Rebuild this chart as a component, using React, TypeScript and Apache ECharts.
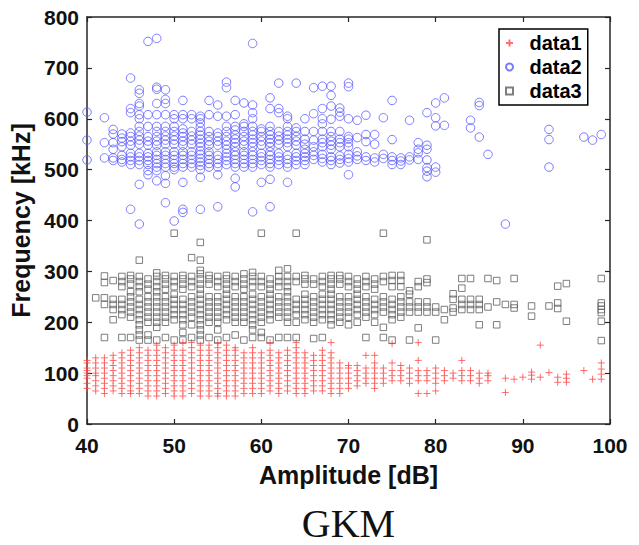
import React, { useEffect, useRef } from "react";
import * as echarts from "echarts";

// [amplitude dB, frequencies kHz]
const data1Columns: [number, number[]][] = [
  [40, [70, 80, 90, 95, 100, 105, 110, 120, 125]],
  [41, [65, 75, 85, 95, 100, 110, 120, 130]],
  [42, [60, 70, 80, 90, 100, 110, 120, 130]],
  [43, [65, 75, 85, 95, 105, 115, 125, 135]],
  [44, [60, 70, 80, 90, 100, 110, 120, 130, 140]],
  [45, [60, 65, 75, 85, 95, 105, 115, 125, 135, 145]],
  [46, [60, 70, 80, 90, 100, 110, 120, 130, 140, 150]],
  [47, [55, 65, 75, 85, 95, 105, 115, 125, 135, 145]],
  [48, [55, 65, 75, 85, 95, 105, 115, 125, 135, 145, 155]],
  [49, [60, 70, 80, 90, 100, 110, 120, 130, 140, 150]],
  [50, [55, 65, 75, 85, 95, 105, 115, 125, 135, 145, 155]],
  [51, [55, 65, 75, 85, 95, 105, 115, 125, 135, 145, 160]],
  [52, [60, 70, 80, 90, 100, 110, 120, 130, 140, 150, 160]],
  [53, [55, 65, 75, 85, 95, 105, 115, 125, 135, 145, 155]],
  [54, [55, 65, 75, 85, 95, 105, 115, 125, 135, 145, 155]],
  [55, [55, 60, 70, 80, 90, 100, 110, 120, 130, 140, 150, 160]],
  [56, [55, 65, 75, 85, 95, 105, 115, 125, 135, 145, 155]],
  [57, [55, 65, 75, 85, 95, 105, 115, 125, 135, 145, 150]],
  [58, [60, 70, 80, 90, 100, 110, 120, 130, 140]],
  [59, [60, 70, 80, 90, 100, 110, 120, 130, 140, 150]],
  [60, [60, 70, 80, 90, 100, 110, 120, 130, 140]],
  [61, [65, 75, 85, 95, 105, 115, 125, 135, 145, 160]],
  [62, [60, 70, 80, 90, 100, 110, 120, 130, 140]],
  [63, [65, 75, 85, 95, 105, 115, 125, 135, 145]],
  [64, [60, 70, 80, 90, 100, 110, 120, 130, 140, 150, 160]],
  [65, [60, 70, 80, 90, 100, 110, 120, 130, 140]],
  [66, [65, 75, 85, 95, 105, 115, 125, 135]],
  [67, [65, 75, 85, 95, 105, 115, 125, 135, 145]],
  [68, [60, 70, 80, 90, 100, 110, 120, 130, 140, 160]],
  [69, [60, 70, 80, 90, 100, 110, 120]],
  [70, [70, 80, 90, 100, 110, 115]],
  [71, [75, 85, 95, 105, 115]],
  [72, [80, 90, 100, 110, 135]],
  [73, [70, 80, 90, 100, 110, 120, 135]],
  [74, [80, 90, 100, 110]],
  [75, [85, 95, 105, 120, 158]],
  [76, [85, 95, 105, 115]],
  [77, [80, 90, 100, 110]],
  [78, [60, 85, 95, 105, 125, 160]],
  [79, [60, 85, 95, 105]],
  [80, [65, 80, 90, 100, 110]],
  [81, [85, 95, 105]],
  [82, [90, 100]],
  [83, [85, 95, 105, 125]],
  [84, [85, 95, 105]],
  [85, [80, 90, 100]],
  [86, [85, 95, 100]],
  [88, [62, 90]],
  [89, [88]],
  [90, [92]],
  [91, [88, 96, 102]],
  [92, [92, 155]],
  [93, [101]],
  [94, [82, 92]],
  [95, [82, 90, 98]],
  [97, [105]],
  [98, [88]],
  [99, [88, 98, 108, 120]],
];

const data2Columns: [number, number[]][] = [
  [40, [519, 558, 613]],
  [42, [523, 553, 602]],
  [43, [518, 523, 540, 553, 570, 579]],
  [44, [515, 520, 528, 545, 555, 562, 570]],
  [45, [422, 510, 518, 525, 532, 548, 556, 565, 572, 612, 620, 680]],
  [46, [393, 471, 510, 518, 525, 532, 550, 558, 566, 575, 585, 600, 608, 625, 630, 650, 657]],
  [47, [490, 498, 510, 518, 525, 532, 548, 556, 565, 585, 608, 752]],
  [48, [478, 498, 505, 512, 520, 528, 535, 548, 556, 565, 575, 585, 608, 630, 658, 662, 758]],
  [49, [435, 473, 488, 505, 512, 520, 528, 535, 550, 558, 566, 575, 585, 608, 630, 638, 657]],
  [50, [399, 500, 505, 512, 520, 528, 535, 550, 558, 566, 575, 585, 600, 608]],
  [51, [416, 422, 475, 505, 512, 520, 528, 535, 548, 556, 565, 572, 580, 600, 608, 636]],
  [52, [505, 512, 520, 528, 535, 550, 558, 566, 575, 600, 608]],
  [53, [422, 485, 500, 508, 515, 522, 530, 537, 545, 552, 560, 568, 575, 583, 592, 600, 605]],
  [54, [505, 512, 520, 528, 535, 548, 556, 565, 575, 608, 636]],
  [55, [427, 490, 505, 512, 520, 528, 548, 556, 565, 572, 605, 627]],
  [56, [510, 518, 525, 532, 540, 548, 556, 565, 575, 585, 605, 661, 672]],
  [57, [466, 483, 505, 512, 520, 528, 535, 545, 553, 560, 568, 578, 585, 608, 636]],
  [58, [505, 512, 520, 528, 535, 548, 556, 565, 575, 585, 590, 631]],
  [59, [417, 505, 512, 520, 528, 535, 545, 553, 560, 568, 575, 585, 600, 612, 627, 748]],
  [60, [475, 510, 518, 525, 532, 548, 556, 565, 575, 580]],
  [61, [427, 481, 505, 512, 520, 528, 535, 545, 553, 560, 568, 575, 585, 620, 641]],
  [62, [510, 518, 525, 532, 550, 558, 566, 575, 612, 620, 670]],
  [63, [475, 505, 512, 520, 528, 545, 553, 560, 568, 575, 585, 600, 605]],
  [64, [510, 518, 525, 532, 548, 556, 565, 575, 582, 670]],
  [65, [510, 518, 525, 532, 540, 550, 560, 575, 600]],
  [66, [520, 528, 535, 545, 558, 575, 610, 661]],
  [67, [515, 522, 530, 545, 553, 560, 575, 590, 600, 620, 664]],
  [68, [510, 518, 525, 540, 548, 556, 565, 575, 599, 625, 646, 664]],
  [69, [513, 520, 527, 545, 553, 560, 575, 605, 613, 621]],
  [70, [490, 515, 522, 530, 545, 553, 560, 565, 600, 663, 670]],
  [71, [520, 527, 535, 563, 597]],
  [72, [518, 525, 555, 569, 607]],
  [73, [515, 523, 550, 569]],
  [74, [522, 530, 602]],
  [75, [510, 518, 525, 559, 636]],
  [76, [510, 517, 523]],
  [77, [519, 525, 597]],
  [78, [520, 533, 540, 553]],
  [79, [486, 497, 504, 519, 540, 548, 612]],
  [80, [495, 505, 586, 602, 631]],
  [81, [587, 641]],
  [84, [582, 597]],
  [85, [564, 626, 632]],
  [86, [530]],
  [88, [393]],
  [93, [505, 559, 579]],
  [97, [564]],
  [98, [558]],
  [99, [569]],
];

const data3Columns: [number, number[]][] = [
  [41, [248]],
  [42, [170, 235, 248, 278, 291]],
  [43, [205, 225, 235, 245, 282]],
  [44, [170, 215, 225, 235, 245, 270, 280, 290]],
  [45, [170, 210, 220, 230, 240, 250, 260, 275, 285, 292]],
  [46, [165, 175, 185, 195, 205, 215, 225, 235, 245, 260, 270, 280, 290, 322]],
  [47, [165, 175, 200, 210, 220, 230, 240, 250, 265, 275, 285]],
  [48, [165, 190, 200, 210, 220, 230, 240, 250, 260, 270, 280, 290, 297]],
  [49, [170, 200, 210, 220, 230, 240, 250, 265, 275, 285, 292]],
  [50, [165, 205, 215, 225, 235, 245, 255, 270, 280, 290, 375]],
  [51, [165, 180, 195, 205, 215, 225, 235, 245, 265, 275, 285, 292]],
  [52, [170, 195, 210, 220, 230, 240, 250, 270, 280, 290, 327]],
  [53, [165, 175, 185, 195, 205, 215, 225, 235, 245, 255, 265, 275, 285, 295, 302, 322, 357]],
  [54, [170, 200, 210, 220, 230, 240, 250, 275, 285, 292]],
  [55, [165, 185, 200, 210, 220, 230, 240, 250, 270, 280, 290]],
  [56, [170, 205, 215, 225, 235, 245, 255, 265, 275, 285, 292]],
  [57, [175, 200, 210, 220, 230, 240, 250, 270, 280, 290]],
  [58, [165, 200, 210, 220, 230, 240, 250, 265, 275, 285, 295]],
  [59, [170, 185, 195, 205, 215, 225, 235, 245, 255, 270, 280, 290, 298]],
  [60, [170, 180, 200, 210, 220, 230, 240, 250, 270, 280, 290, 375]],
  [61, [165, 205, 215, 225, 235, 245, 255, 265, 275, 285]],
  [62, [170, 210, 220, 230, 240, 250, 270, 280, 290, 302]],
  [63, [170, 200, 210, 220, 230, 240, 250, 260, 270, 280, 290, 305]],
  [64, [170, 200, 215, 225, 235, 245, 280, 290, 375]],
  [65, [205, 215, 225, 235, 245, 255, 275, 285, 292]],
  [66, [168, 200, 210, 220, 230, 240, 250, 275, 285]],
  [67, [170, 205, 215, 225, 235, 245, 255, 270, 280, 290]],
  [68, [195, 205, 215, 225, 235, 245, 255, 265, 275, 285, 292]],
  [69, [200, 210, 220, 230, 240, 250, 275, 285, 292]],
  [70, [195, 210, 220, 230, 240, 250, 270, 280, 290]],
  [71, [200, 215, 225, 235, 245, 255, 265, 275, 285]],
  [72, [170, 210, 220, 230, 240, 250, 270, 280, 290]],
  [73, [200, 215, 225, 235, 245, 265, 275, 285]],
  [74, [170, 190, 220, 230, 240, 250, 280, 290, 375]],
  [75, [165, 205, 215, 225, 235, 245, 270, 282, 292]],
  [76, [210, 220, 230, 240, 250, 270, 282, 292]],
  [77, [165, 220, 230, 240, 255, 262]],
  [78, [189, 220, 230, 240, 270, 280]],
  [79, [220, 230, 240, 278, 285, 362]],
  [80, [165, 220, 230]],
  [81, [205, 225]],
  [82, [220, 228, 245, 256]],
  [83, [225, 235, 245, 267, 286]],
  [84, [225, 235, 245, 286]],
  [85, [195, 225, 235, 245]],
  [86, [230, 286]],
  [87, [195, 240, 282]],
  [88, [235]],
  [89, [228, 235, 286]],
  [91, [212, 232]],
  [93, [232]],
  [94, [227, 238, 271]],
  [95, [202, 276]],
  [99, [164, 202, 219, 225, 232, 238, 286]],
];

const seriesNames = ["data1", "data2", "data3"];
const xAxisTitle = "Amplitude [dB]";
const yAxisTitle = "Frequency [kHz]";
const caption = "GKM";

const SANS = '"Liberation Sans", Arial, Helvetica, sans-serif';
const SERIF = '"Liberation Serif", "Times New Roman", serif';
const AXIS_COLOR = "#262626";

const PLUS_SYMBOL = "path://M5,0V10M0,5H10";
const SQUARE_SYMBOL = "path://M0,0H10V10H0Z";

function toPoints(cols: [number, number[]][]): number[][] {
  const out: number[][] = [];
  for (const [a, ys] of cols) for (const y of ys) out.push([a, y]);
  return out;
}

export default function App() {
  const ref = useRef<HTMLDivElement>(null);

  useEffect(() => {
    document.body.style.margin = "0";
    if (!ref.current) return;
    const chart = echarts.init(ref.current, null, { renderer: "svg" });

    const axisLine = { show: true, onZero: false, lineStyle: { color: AXIS_COLOR, width: 1.5 } };
    const axisTick = { show: true, inside: true, length: 5, lineStyle: { color: AXIS_COLOR, width: 1.2 } };
    const labelStyle = { color: "#111", fontSize: 21, fontWeight: "bold", fontFamily: SANS };
    const nameStyle = { color: "#111", fontSize: 25, fontWeight: "bold", fontFamily: SANS };

    chart.setOption({
      animation: false,
      backgroundColor: "#fff",
      grid: { left: 87, right: 29, top: 17, bottom: 121, containLabel: false },
      xAxis: [
        {
          type: "value", min: 40, max: 100, interval: 10, position: "bottom",
          axisLine, axisTick, splitLine: { show: false },
          axisLabel: { ...labelStyle, margin: 11 },
          name: xAxisTitle, nameLocation: "middle", nameGap: 38, nameTextStyle: nameStyle,
        },
        {
          type: "value", min: 40, max: 100, interval: 10, position: "top",
          axisLine, axisTick, splitLine: { show: false }, axisLabel: { show: false },
        },
      ],
      yAxis: [
        {
          type: "value", min: 0, max: 800, interval: 100, position: "left",
          axisLine, axisTick, splitLine: { show: false },
          axisLabel: { ...labelStyle, margin: 8 },
          name: yAxisTitle, nameLocation: "middle", nameGap: 48, nameTextStyle: nameStyle,
        },
        {
          type: "value", min: 0, max: 800, interval: 100, position: "right",
          axisLine, axisTick, splitLine: { show: false }, axisLabel: { show: false },
        },
      ],
      legend: {
        data: seriesNames,
        orient: "vertical",
        left: 499,
        top: 29,
        itemWidth: 30,
        itemHeight: 7,
        itemGap: 4,
        padding: [4, 6, 4, 6],
        symbolKeepAspect: true,
        selectedMode: false,
        borderColor: "#000",
        borderWidth: 1.5,
        backgroundColor: "#fff",
        textStyle: { fontSize: 20, fontWeight: "bold", color: "#000", fontFamily: SANS },
      },
      series: [
        {
          name: seriesNames[0], type: "scatter", silent: true,
          symbol: PLUS_SYMBOL, symbolSize: 7, symbolKeepAspect: true,
          itemStyle: { color: "rgba(0,0,0,0)", borderColor: "#ff4a4a", borderWidth: 1 },
          data: toPoints(data1Columns),
        },
        {
          name: seriesNames[1], type: "scatter", silent: true,
          symbol: "circle", symbolSize: 8.5,
          itemStyle: { color: "rgba(0,0,0,0)", borderColor: "#5a5aff", borderWidth: 1 },
          data: toPoints(data2Columns),
        },
        {
          name: seriesNames[2], type: "scatter", silent: true,
          symbol: SQUARE_SYMBOL, symbolSize: 6.5, symbolKeepAspect: true,
          itemStyle: { color: "rgba(0,0,0,0)", borderColor: "#5e5e5e", borderWidth: 1 },
          data: toPoints(data3Columns),
        },
      ],
      graphic: [
        {
          type: "text",
          x: 348.5,
          y: 523,
          style: {
            text: caption,
            fontSize: 40,
            fontFamily: SERIF,
            fill: "#111",
            align: "center",
            verticalAlign: "middle",
          },
        },
      ],
    });

    return () => chart.dispose();
  }, []);

  return <div ref={ref} style={{ width: 639, height: 545 }} />;
}
